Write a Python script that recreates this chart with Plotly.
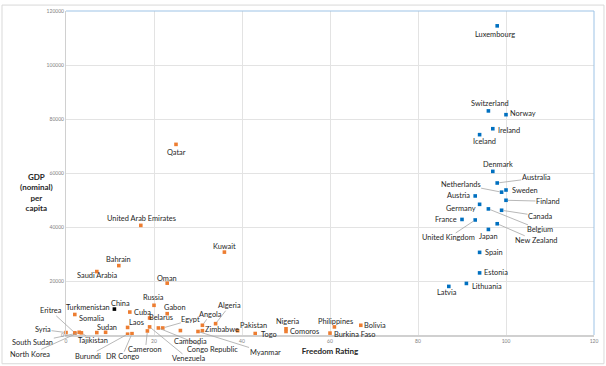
import plotly.graph_objects as go

# ---------------- data ----------------
free_countries = ["Luxembourg", "Switzerland", "Norway", "Ireland", "Iceland", "Denmark",
                  "Australia", "Netherlands", "Sweden", "Austria", "Finland", "Germany",
                  "Canada", "France", "United Kingdom", "Belgium", "Japan", "New Zealand",
                  "Spain", "Estonia", "Lithuania", "Latvia"]
free_rating = [98, 96, 100, 97, 94, 97, 98, 99, 100, 93, 100, 94, 99, 90, 93, 96, 96, 98, 94, 94, 91, 87]
free_gdp = [114500, 83000, 81600, 76400, 74200, 60600, 56300, 52900, 53700, 51500, 49900, 48400,
            46200, 42800, 42600, 46700, 39100, 41200, 30600, 23000, 19100, 18000]

other_countries = ["Qatar", "United Arab Emirates", "Kuwait", "Bahrain", "Saudi Arabia", "Oman",
                   "Russia", "Gabon", "Cuba", "Turkmenistan", "Eritrea", "Somalia", "Sudan",
                   "Laos", "Belarus", "Egypt", "Syria", "South Sudan", "North Korea", "Tajikistan",
                   "Burundi", "DR Congo", "Cameroon", "Venezuela", "Congo Republic", "Cambodia",
                   "Myanmar", "Angola", "Algeria", "Zimbabwe", "Pakistan", "Togo", "Nigeria",
                   "Comoros", "Philippines", "Burkina Faso", "Bolivia"]
other_rating = [25, 17, 36, 12, 7, 23, 20, 23, 14.5, 2, 2, 7, 9, 14, 19, 22, 0, 2, 3, 3.5,
                14, 15, 18.5, 19, 21, 26, 30, 31, 34, 31, 39, 43, 50, 50, 61, 60, 67]
other_gdp = [70600, 40600, 30700, 25700, 23500, 19200, 11000, 7900, 8500, 7600, 800, 900, 1000,
             2800, 6300, 2600, 900, 500, 1000, 800, 300, 500, 1500, 3000, 2600, 1650,
             1300, 3600, 4200, 1600, 1600, 550, 2300, 1300, 3000, 700, 3600]

china_countries = ["China"]
china_rating = [11]
china_gdp = [9600]

x_ticks = [0, 20, 40, 60, 80, 100, 120]
y_ticks = [0, 20000, 40000, 60000, 80000, 100000, 120000]

# ---------------- label placement (pixel offsets from point) ----------------
# name: (dx, dy, anchor, leader_line)
labels = {
    "Luxembourg": (-2, 9, "c", False), "Switzerland": (2, -7, "c", False),
    "Norway": (3, -1, "l", False), "Ireland": (4, 2, "l", False),
    "Iceland": (5, 7, "c", False), "Denmark": (5, -7, "c", False),
    "Australia": (39, -5, "c", True), "Netherlands": (-41, -8, "c", True),
    "Sweden": (5, 0, "l", False), "Austria": (-4, 0, "r", False),
    "Finland": (42, 1, "c", True), "Germany": (-3, 4, "r", False),
    "Canada": (39, 6, "c", True), "France": (-4, 0, "r", False),
    "United Kingdom": (-27, 18, "c", True), "Belgium": (52, 21, "c", True),
    "Japan": (0, 7, "c", False), "New Zealand": (39, 17, "c", True),
    "Spain": (4, 0, "l", False), "Estonia": (3, 0, "l", False),
    "Lithuania": (5, 3, "l", False), "Latvia": (-2, 6, "c", False),
    "Qatar": (0, 8, "c", False), "United Arab Emirates": (1, -7, "c", False),
    "Kuwait": (0, -6, "c", False), "Bahrain": (0, -6, "c", False),
    "Saudi Arabia": (1, 4, "c", False), "Oman": (0, -5, "c", False),
    "Russia": (-1, -8, "c", False), "Gabon": (8, -6, "c", False),
    "China": (6, -6, "c", False), "Cuba": (3, 0, "l", False),
    "Turkmenistan": (13, -7, "c", False), "Eritrea": (-24, -22, "c", True),
    "Somalia": (-5, -14, "c", False), "Sudan": (1, -5, "c", False),
    "Laos": (9, -5, "c", False), "Belarus": (-2, 0, "l", False),
    "Egypt": (28, -8, "c", True), "Syria": (-23, -3, "c", True),
    "South Sudan": (-42, 9, "c", True), "North Korea": (-49, 22, "c", True),
    "Tajikistan": (12, 8, "c", True), "Burundi": (-40, 22, "c", True),
    "DR Congo": (-10, 23, "c", True), "Cameroon": (-2, 19, "c", True),
    "Venezuela": (39, 32, "c", True), "Congo Republic": (54, 22, "c", True),
    "Cambodia": (10, 11, "c", False), "Myanmar": (67, 21, "c", True),
    "Angola": (8, -11, "c", True), "Algeria": (14, -18, "c", True),
    "Zimbabwe": (2, -1, "l", False), "Pakistan": (1, -5, "l", False),
    "Togo": (5, 1, "l", False), "Nigeria": (2, -7, "c", False),
    "Comoros": (3, 0, "l", False), "Philippines": (1, -5, "c", False),
    "Burkina Faso": (3, 1, "l", False), "Bolivia": (2, 0, "l", False),
}

FONT = "Lato, Carlito, Calibri, sans-serif"
LBL_SIZE = 7.4
TXT = "#262626"

fig = go.Figure()
for names, xs, ys, col in [(free_countries, free_rating, free_gdp, "#0070c0"),
                           (other_countries, other_rating, other_gdp, "#ed7d31"),
                           (china_countries, china_rating, china_gdp, "#000000")]:
    fig.add_trace(go.Scatter(x=xs, y=ys, mode="markers", text=names,
                             marker=dict(color=col, size=3.6, symbol="square"),
                             cliponaxis=False, showlegend=False, hoverinfo="text+x+y"))

annotations = []
all_pts = list(zip(free_countries, free_rating, free_gdp)) + \
    list(zip(other_countries, other_rating, other_gdp)) + \
    list(zip(china_countries, china_rating, china_gdp))
for name, xv, yv in all_pts:
    dx, dy, anc, line = labels[name]
    if line:
        annotations.append(dict(x=xv, y=yv, xref="x", yref="y", text=name, showarrow=True,
                                arrowhead=0, arrowwidth=0.8, arrowcolor="#a6a6a6",
                                ax=dx, ay=dy, standoff=2, borderpad=0,
                                font=dict(family=FONT, size=LBL_SIZE, color=TXT)))
    else:
        xa = {"c": "center", "l": "left", "r": "right"}[anc]
        annotations.append(dict(x=xv, y=yv, xref="x", yref="y", text=name, showarrow=False,
                                xanchor=xa, yanchor="middle", xshift=dx, yshift=-dy,
                                borderpad=0,
                                font=dict(family=FONT, size=LBL_SIZE, color=TXT)))

annotations.append(dict(x=-0.055, y=0.44, xref="paper", yref="paper", xanchor="center",
                        yanchor="middle", showarrow=False,
                        text="<b>GDP<br>(nominal)<br>per<br>capita</b>",
                        font=dict(family=FONT, size=8, color=TXT)))

shapes = [
    # outer chart border
    dict(type="rect", xref="paper", yref="paper", x0=-0.1212, x1=1.0189, y0=-0.0887, y1=1.0183,
         line=dict(color="#d9d9d9", width=1), layer="below"),
    # top and right plot borders (light blue)
    dict(type="line", xref="paper", yref="paper", x0=0, x1=1, y0=1, y1=1,
         line=dict(color="#9dc3e6", width=1)),
    dict(type="line", xref="paper", yref="paper", x0=1, x1=1, y0=0, y1=1,
         line=dict(color="#9dc3e6", width=1)),
]

fig.update_layout(
    width=606, height=366,
    margin=dict(l=66, r=12, t=8, b=31),
    paper_bgcolor="white", plot_bgcolor="white",
    font=dict(family=FONT, color=TXT),
    annotations=annotations, shapes=shapes,
    xaxis=dict(range=[0, 120], tickvals=x_ticks, showgrid=True, gridcolor="#e3e3e3",
               gridwidth=1, zeroline=False, showline=True, linecolor="#d0d0d0", linewidth=1.5,
               tickfont=dict(size=5, color="#7f7f7f"), ticks="",
               title=dict(text="<b>Freedom Rating</b>", font=dict(family=FONT, size=8, color=TXT),
                          standoff=6)),
    yaxis=dict(range=[0, 120000], tickvals=y_ticks, tickformat="d", showgrid=True,
               gridcolor="#e3e3e3", gridwidth=1, zeroline=False, showline=True,
               linecolor="#d0d0d0", linewidth=1, ticks="",
               tickfont=dict(size=5, color="#7f7f7f")),
)

fig.write_html("out.html", config={"displayModeBar": False},
               post_script="document.body.style.margin='0';document.body.style.overflow='hidden';")
